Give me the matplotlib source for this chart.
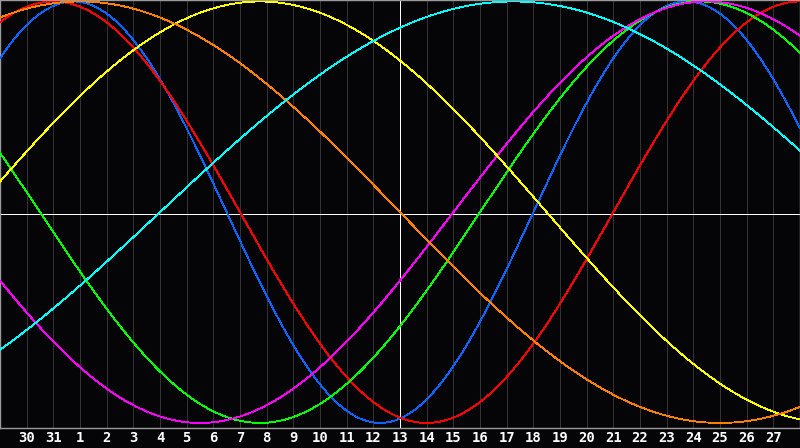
import numpy as np
import matplotlib
matplotlib.use("Agg")
import matplotlib.pyplot as plt

# ---- data ----
cycle_names = ["Physical", "Emotional", "Intellectual", "Intuitive",
               "Aesthetic", "Awareness", "Spiritual"]
cycle_periods = [23, 28, 33, 38, 43, 48, 53]
cycle_colors = ["#0a64ff", "#ff0000", "#00ff00", "#ff00ff",
                "#ffff00", "#ff7f00", "#00ffff"]
days_alive_today = 23064          # days since birth at the centre line (day 13)
day_offsets = list(range(-14, 15))
day_labels = ["30", "31"] + [str(d) for d in range(1, 28)]

BG = "#050508"

fig = plt.figure(figsize=(8.0, 4.48), dpi=100, facecolor=BG)
ax = fig.add_axes([0.0, 20 / 448, 1.0, 428 / 448])
ax.set_facecolor(BG)

u = np.linspace(-15, 15, 1601)

# grid lines per day
for d in day_offsets:
    if d != 0:
        ax.axvline(d, color="#333333", lw=0.6, zorder=1, antialiased=False)

for name, period, color in zip(cycle_names, cycle_periods, cycle_colors):
    vals = np.sin(2 * np.pi * (days_alive_today + u) / period)
    ax.plot(u, vals, color=color, lw=0.6, zorder=3, antialiased=False, label=name)

ax.axvline(0, color="white", lw=0.55, zorder=2, antialiased=False)
ax.axhline(-0.008, color="white", lw=0.55, zorder=2, antialiased=False)

ax.set_xlim(-15, 15)
ax.set_ylim(-1.024, 1.007)

ax.set_xticks(day_offsets)
ax.set_xticklabels(day_labels, fontfamily="DejaVu Sans Mono",
                   fontweight="bold", fontsize=10, color="white")
ax.tick_params(axis="x", length=0, pad=2.5)
ax.set_yticks([])

for sp in ax.spines.values():
    sp.set_color("#9a9a9a")
    sp.set_linewidth(1.0)

fig.savefig("out.png", dpi=100, facecolor=BG)
